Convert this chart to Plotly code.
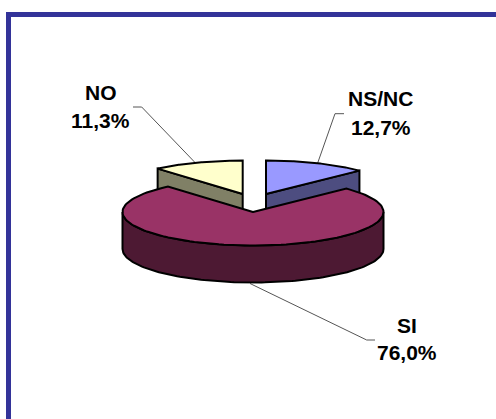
import numpy as np
import plotly.graph_objects as go

categories = ["NS/NC", "SI", "NO"]
shares = [12.7, 76.0, 11.3]
top_colors = ["#9999FF", "#993366", "#FFFFCC"]
side_colors = ["#4D4D80", "#4D1933", "#808066"]

W, H = 496, 419
RX, RY, DEPTH = 130.5, 33.5, 37.0
centers = {"NS/NC": (266.0, 194.0), "SI": (253.0, 212.0), "NO": (242.7, 194.0)}
EDGE = dict(color="#000000", width=2)

# slice spans, clockwise from twelve o'clock
ends = np.cumsum(shares) / sum(shares) * 2 * np.pi
starts = np.concatenate([[0.0], ends[:-1]])


def rim(cx, cy, a, b, n=120):
    t = np.linspace(a, b, n)
    return cx + RX * np.sin(t), cy - RY * np.cos(t)


def poly(fig, x, y, color):
    fig.add_trace(go.Scatter(x=np.asarray(x), y=np.asarray(y), mode="lines", fill="toself",
                             fillcolor=color, line=EDGE, hoverinfo="skip", showlegend=False))


def wedge(fig, name, a, b, top, side):
    cx, cy = centers[name]
    if name == "SI":
        lo, hi = max(a, np.pi / 2), min(b, 3 * np.pi / 2)
        x, y = rim(cx, cy, lo, hi)
        poly(fig, np.r_[x, x[::-1], x[0]], np.r_[y, y[::-1] + DEPTH, y[0]], side)
    else:
        edge_angle = b if name == "NS/NC" else a
        ex, ey = cx + RX * np.sin(edge_angle), cy - RY * np.cos(edge_angle)
        poly(fig, [cx, ex, ex, cx, cx], [cy, ey, ey + DEPTH, cy + DEPTH, cy], side)
    x, y = rim(cx, cy, a, b)
    poly(fig, np.r_[cx, x, cx], np.r_[cy, y, cy], top)


fig = go.Figure()

leaders = [
    ([133, 141.7, 195], [107, 107, 162.5]),
    ([344, 335, 317.5], [113.7, 113.7, 163.5]),
    ([375, 366.7, 250], [340, 340, 283.5]),
]
for lx, ly in leaders:
    fig.add_trace(go.Scatter(x=lx, y=ly, mode="lines", line=dict(color="#555555", width=1),
                             hoverinfo="skip", showlegend=False))

for i in (0, 2, 1):
    wedge(fig, categories[i], starts[i], ends[i], top_colors[i], side_colors[i])

label_pos = {"NS/NC": (380.7, 98, 127), "SI": (407, 325, 352.5), "NO": (100.5, 92, 120.7)}
font = dict(family="Liberation Sans", size=21, color="#000000")
anns = []
for name, v in zip(categories, shares):
    px, y1, y2 = label_pos[name]
    for txt, py in ((name, y1), (f"{v:.1f}".replace(".", ",") + "%", y2)):
        anns.append(dict(x=px, y=py, xref="x", yref="y", text=f"<b>{txt}</b>", showarrow=False,
                         font=font, xanchor="center", yanchor="middle"))

frame = dict(type="rect", xref="x", yref="y", x0=8.5, y0=14.5, x1=W + 20, y1=H + 20,
             line=dict(color="#333399", width=5), fillcolor="rgba(0,0,0,0)", layer="above")

fig.update_layout(
    width=W, height=H, margin=dict(l=0, r=0, t=0, b=0),
    paper_bgcolor="white", plot_bgcolor="white",
    xaxis=dict(range=[0, W], visible=False, fixedrange=True),
    yaxis=dict(range=[H, 0], visible=False, fixedrange=True),
    shapes=[frame], annotations=anns, showlegend=False,
)
fig.write_html("out.html", config={"displayModeBar": False},
               post_script="document.body.style.margin='0';")
